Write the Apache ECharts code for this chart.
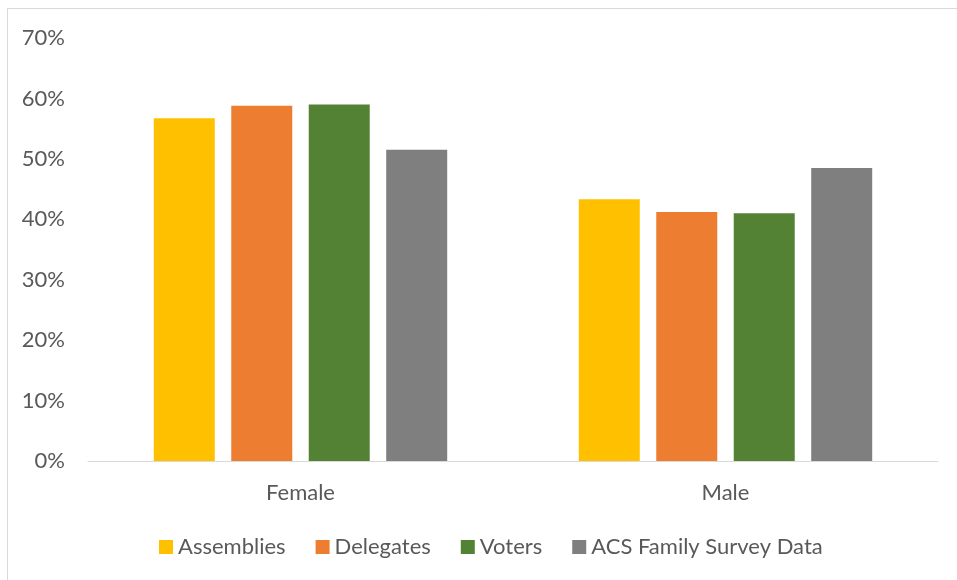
<!DOCTYPE html>
<html><head><meta charset="utf-8">
<script src="https://cdn.jsdelivr.net/npm/echarts@6/dist/echarts.min.js"></script>
<style>html,body{margin:0;padding:0;background:#fff}#c{width:957px;height:580px}</style>
</head><body><div id="c"></div>
<script>
const categories = ['Female', 'Male'];
const assemblies = [0.567, 0.433];
const delegates = [0.588, 0.412];
const voters = [0.590, 0.410];
const acs = [0.515, 0.485];
const yTicks = [0, 0.1, 0.2, 0.3, 0.4, 0.5, 0.6, 0.7];

const FONT = 'Lato';
const chart = echarts.init(document.getElementById('c'), null, {renderer: 'canvas'});
function mk(name, data, color) {
  return {name, type: 'bar', data, barWidth: 61, barGap: '27%',
    itemStyle: {color}, emphasis: {disabled: true}};
}
chart.setOption({
  animation: false,
  backgroundColor: '#fff',
  textStyle: {fontFamily: FONT},
  graphic: [{type: 'rect', shape: {x: 7.5, y: 8.5, width: 1200, height: 1200},
    style: {fill: 'none', stroke: '#d9d9d9', lineWidth: 1}, silent: true}],
  grid: {left: 88, right: 19, top: 38, bottom: 119, containLabel: false},
  legend: {left: 154, top: 531, itemWidth: 14, itemHeight: 14, itemGap: 30,
    icon: 'rect', textStyle: {fontFamily: FONT, fontSize: 22, color: '#595959'},
    data: ['Assemblies', 'Delegates', 'Voters', 'ACS Family Survey Data']},
  xAxis: {type: 'category', data: categories,
    axisLine: {lineStyle: {color: '#d9d9d9', width: 1}}, axisTick: {show: false},
    axisLabel: {fontFamily: FONT, fontSize: 22, color: '#595959', margin: 21}},
  yAxis: {type: 'value', min: 0, max: 0.7, interval: 0.1,
    axisLine: {show: false}, axisTick: {show: false}, splitLine: {show: false},
    axisLabel: {fontFamily: FONT, fontSize: 22, color: '#595959', margin: 23,
      formatter: v => Math.round(v * 100) + '%'}},
  series: [
    mk('Assemblies', assemblies, '#ffc000'),
    mk('Delegates', delegates, '#ed7d31'),
    mk('Voters', voters, '#548235'),
    mk('ACS Family Survey Data', acs, '#7f7f7f')
  ]
});
</script></body></html>
